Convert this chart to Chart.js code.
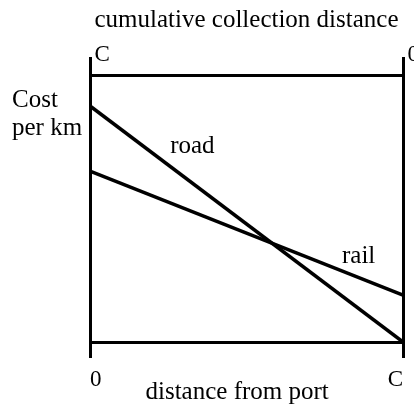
<!DOCTYPE html>
<html>
<head>
<meta charset="utf-8">
<title>Cost per km — road vs rail</title>
<script src="https://cdn.jsdelivr.net/npm/chart.js@4.4.0/dist/chart.umd.min.js"></script>
<style>
  html, body { margin: 0; padding: 0; background: #fff; }
  #wrap { width: 414px; height: 409px; }
</style>
</head>
<body>
<div id="wrap"><canvas id="chart" width="414" height="409"></canvas></div>
<script>
// distance from port: 0 = at the port, 1 = C (end of the collection area)
const distanceFromPort = [0, 1];
const roadCost = [8.84, 0];
const railCost = [6.40, 1.76];
const bottomTickLabels = ['0', 'C'];
const topTickLabels = ['\u2009C', '\u20090'];
const costMax = 10;

const FONT = "'Liberation Serif', 'Times New Roman', serif";
const INK = '#000';

const toPoints = (xs, ys) => xs.map((x, i) => ({ x, y: ys[i] }));

// free-standing text that Chart.js has no slot for
const annotations = {
  id: 'annotations',
  afterDatasetsDraw(chart) {
    const { ctx, chartArea, scales } = chart;
    ctx.save();
    ctx.fillStyle = INK;
    ctx.font = `25px ${FONT}`;
    ctx.textAlign = 'left';
    ctx.textBaseline = 'alphabetic';
    ctx.fillText('Cost', 12, chartArea.top + 32);
    ctx.fillText('per km', 12, chartArea.top + 60);
    ctx.fillText('road', scales.x.getPixelForValue(0.256), scales.y.getPixelForValue(7.08));
    ctx.fillText('rail', scales.x.getPixelForValue(0.805), scales.y.getPixelForValue(2.96));
    ctx.restore();
  }
};

const tickFont = { family: FONT, size: 23 };
const titleFont = { family: FONT, size: 25 };

new Chart(document.getElementById('chart'), {
  type: 'line',
  data: {
    datasets: [
      { label: 'road', data: toPoints(distanceFromPort, roadCost), borderColor: INK, borderWidth: 3.5, pointRadius: 0, tension: 0 },
      { label: 'rail', data: toPoints(distanceFromPort, railCost), borderColor: INK, borderWidth: 3.5, pointRadius: 0, tension: 0 }
    ]
  },
  options: {
    responsive: false,
    animation: false,
    layout: { padding: 0, autoPadding: false },
    plugins: { legend: { display: false }, tooltip: { enabled: false } },
    scales: {
      x: {
        type: 'linear', position: 'bottom', min: 0, max: 1,
        afterFit: s => { s.height = 67; },
        ticks: { stepSize: 1, align: 'inner', padding: 8, maxRotation: 0, color: INK, font: tickFont,
                 callback: (v, i) => bottomTickLabels[i] },
        grid: { drawOnChartArea: false, tickLength: 16, color: INK, lineWidth: 3 },
        border: { color: INK, width: 3 },
        title: { display: true, text: 'distance from port\u00a0\u00a0\u00a0', color: INK, font: titleFont,
                 padding: { top: 0, bottom: 2 } }
      },
      xTop: {
        type: 'linear', position: 'top', min: 0, max: 1,
        afterFit: s => { s.height = 75; },
        ticks: { stepSize: 1, align: 'start', padding: -12, maxRotation: 0, color: INK, font: tickFont,
                 callback: (v, i) => topTickLabels[i] },
        grid: { drawOnChartArea: false, tickLength: 18, color: INK, lineWidth: 3 },
        border: { color: INK, width: 3 },
        title: { display: true, text: 'cumulative collection distance', color: INK, font: titleFont,
                 padding: { top: 5, bottom: 0 } }
      },
      y: {
        min: 0, max: costMax, position: 'left',
        afterFit: s => { s.width = 90; },
        ticks: { display: false },
        grid: { display: false },
        border: { color: INK, width: 3 }
      },
      y2: {
        min: 0, max: costMax, position: 'right',
        afterFit: s => { s.width = 11; },
        ticks: { display: false },
        grid: { display: false },
        border: { color: INK, width: 3 }
      }
    }
  },
  plugins: [annotations]
});
</script>
</body>
</html>
